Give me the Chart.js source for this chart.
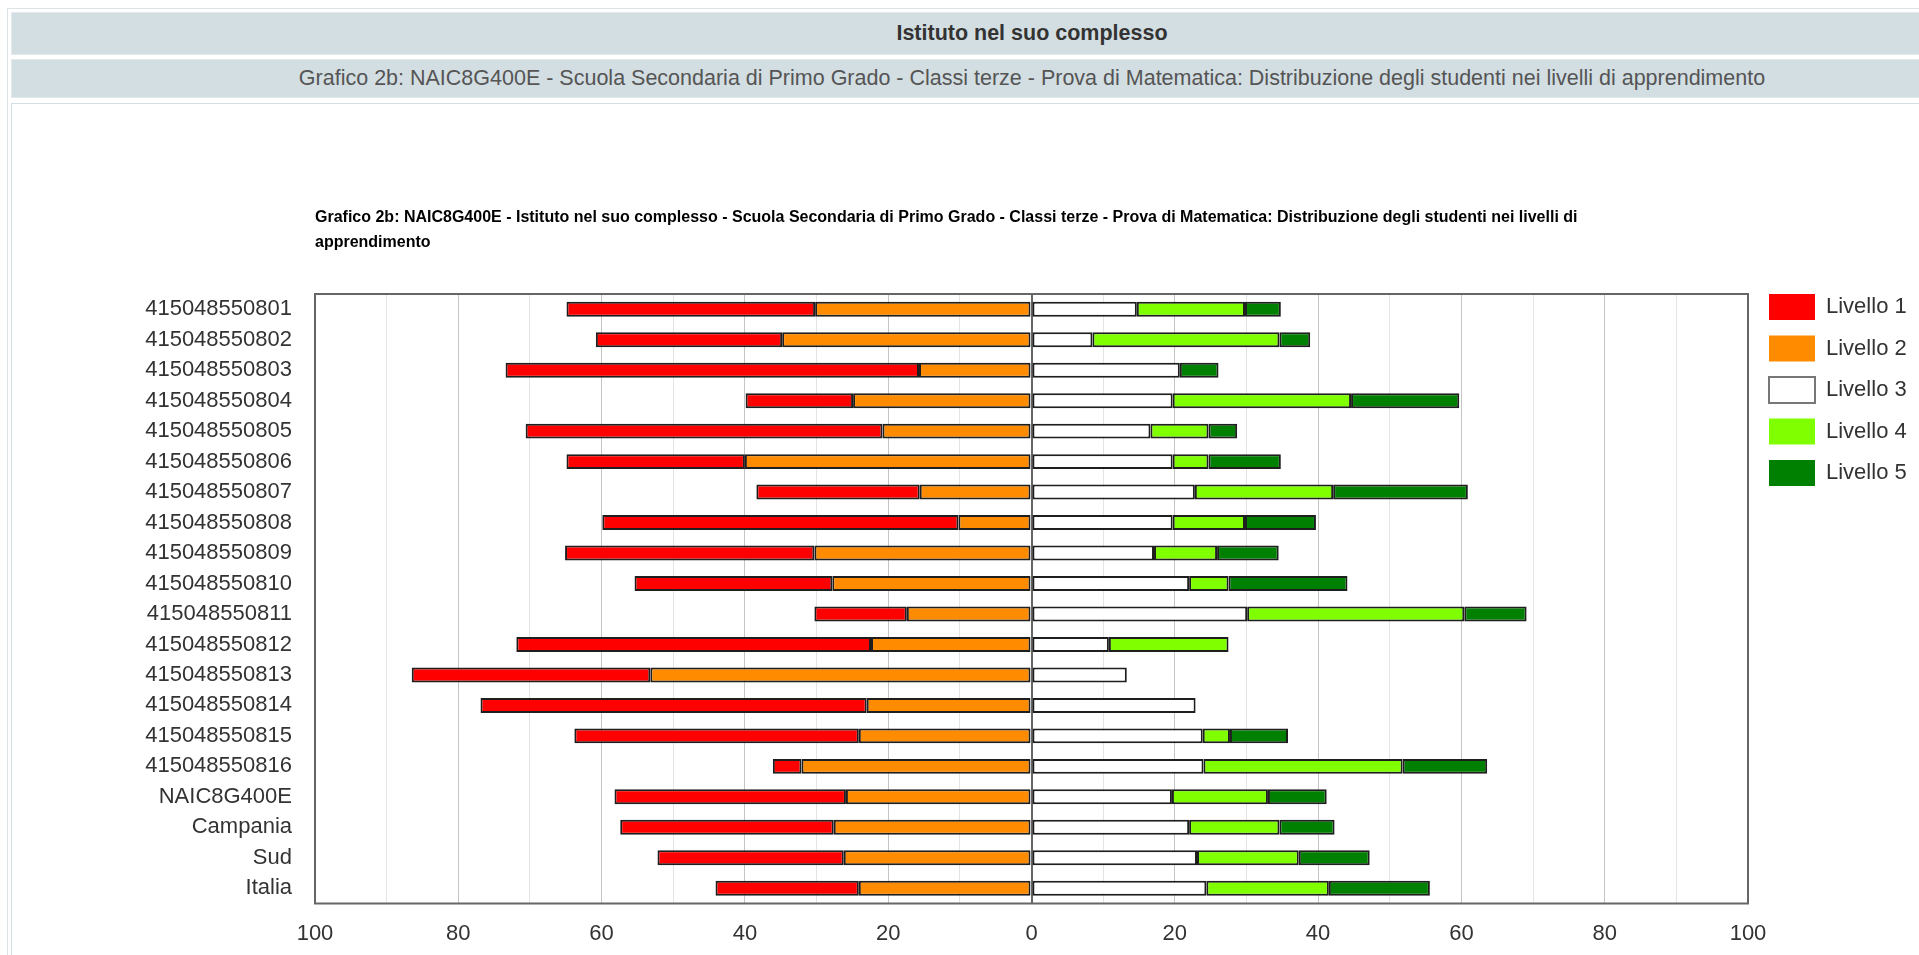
<!DOCTYPE html>
<html>
<head>
<meta charset="utf-8">
<script src="https://cdn.jsdelivr.net/npm/chart.js@4.4.0/dist/chart.umd.min.js"></script>
<style>
html,body{margin:0;padding:0;background:#fff;overflow:hidden;}
body{width:1919px;height:955px;position:relative;font-family:"Liberation Sans",Arial,sans-serif;}
#frame{position:absolute;left:7px;top:8px;width:2100px;height:1100px;border:1px solid #dce4e8;box-sizing:border-box;}
.band{position:absolute;left:11px;width:2042px;background:#d3dee2;border:1px solid #e3eaed;box-sizing:border-box;text-align:center;white-space:nowrap;}
#band1{top:12px;height:43px;line-height:41px;font-weight:bold;font-size:21.5px;color:#333;}
#band2{top:59px;height:39px;line-height:37px;font-size:21.5px;color:#555;}
#content{position:absolute;left:11px;top:103px;width:2100px;height:1000px;border:1px solid #d5dfe3;box-sizing:border-box;}
#chart{position:absolute;left:0;top:0;}
</style>
</head>
<body>
<div id="frame"></div>
<div class="band" id="band1">Istituto nel suo complesso</div>
<div class="band" id="band2">Grafico 2b: NAIC8G400E - Scuola Secondaria di Primo Grado - Classi terze - Prova di Matematica: Distribuzione degli studenti nei livelli di apprendimento</div>
<div id="content"></div>
<canvas id="chart" width="1919" height="955"></canvas>
<script>
// ---- data (percent of students per level) ----
const categories = ['415048550801','415048550802','415048550803','415048550804','415048550805','415048550806','415048550807','415048550808','415048550809','415048550810','415048550811','415048550812','415048550813','415048550814','415048550815','415048550816','NAIC8G400E','Campania','Sud','Italia'];
const livello1 = [34.7, 26.0, 57.7, 15.0, 49.8, 24.9, 22.8, 49.7, 34.8, 27.6, 12.9, 49.5, 33.3, 53.9, 39.7, 4.0, 32.3, 29.8, 26.0, 20.0];
const livello2 = [30.2, 34.8, 15.7, 24.9, 20.8, 40.0, 15.6, 10.2, 30.3, 27.8, 17.4, 22.4, 53.2, 23.0, 24.1, 32.1, 25.9, 27.6, 26.2, 24.1];
const livello3 = [14.7, 8.5, 20.7, 19.7, 16.6, 19.7, 22.8, 19.7, 17.1, 22.0, 30.1, 10.8, 13.3, 22.9, 23.9, 24.0, 19.6, 22.0, 23.1, 24.4];
const livello4 = [15.1, 26.1, 0, 24.9, 8.1, 5.0, 19.3, 10.1, 8.8, 5.5, 30.3, 16.7, 0, 0, 3.8, 27.8, 13.4, 12.6, 14.2, 17.1];
const livello5 = [5.0, 4.3, 5.4, 15.1, 4.0, 10.1, 18.8, 9.9, 8.6, 16.6, 8.7, 0, 0, 0, 8.1, 11.8, 8.2, 7.7, 9.9, 14.1];
const seriesNames = ['Livello 1','Livello 2','Livello 3','Livello 4','Livello 5'];
const xTickMin = -100, xTickMax = 100, xTickStep = 10, xLabelStep = 20;
const chartTitle = ['Grafico 2b: NAIC8G400E - Istituto nel suo complesso - Scuola Secondaria di Primo Grado - Classi terze - Prova di Matematica: Distribuzione degli studenti nei livelli di', 'apprendimento'];

// ---- styles ----
const fillColors = ['#ff0000', '#ff8c00', '#ffffff', '#80ff00', '#008000'];
const legendEdges = [null, null, '#777777', null, null];
const FONT = "'Liberation Sans', Arial, sans-serif";
Chart.defaults.font.family = FONT;

// Stack order: Livello 2 nearest zero on the negative side, then Livello 1
const stackOrder = [1, 0, 2, 3, 4];
const levelData = [livello1.map(v => -v), livello2.map(v => -v), livello3, livello4, livello5];
const datasets = stackOrder.map(i => ({
  label: seriesNames[i],
  data: levelData[i],
  backgroundColor: fillColors[i],
  levelIndex: i
}));

const plotFrame = {
  id: 'plotFrame',
  beforeDatasetsDraw(chart) {
    const {ctx, chartArea: a} = chart;
    ctx.save();
    ctx.strokeStyle = '#666';
    ctx.lineWidth = 2;
    ctx.strokeRect(a.left, a.top, a.right - a.left, a.bottom - a.top);
    ctx.restore();
  }
};
const legendNudge = {
  id: 'legendNudge',
  afterLayout(chart) {
    const lg = chart.legend, a = chart.chartArea, p = lg.options.labels.padding;
    lg.left = a.right + 21 - p;
    lg.right = chart.width;
    lg.width = lg.right - lg.left;
    lg.top = a.top - p;
  }
};

new Chart(document.getElementById('chart'), {
  type: 'bar',
  data: { labels: categories, datasets },
  options: {
    indexAxis: 'y',
    responsive: false,
    animation: false,
    devicePixelRatio: 1,
    layout: { padding: { top: 195, left: 0, right: 31, bottom: 0 } },
    datasets: {
      bar: { barPercentage: 0.49, categoryPercentage: 1, borderWidth: 2, borderColor: '#1e1e1e', borderSkipped: false }
    },
    scales: {
      x: {
        stacked: true, min: xTickMin, max: xTickMax,
        ticks: {
          stepSize: xTickStep, autoSkip: false, maxRotation: 0, padding: 17,
          color: '#333', font: { size: 22 },
          callback: v => (Math.round(v) % xLabelStep === 0 ? String(Math.abs(Math.round(v))) : '')
        },
        grid: {
          drawTicks: false,
          color: c => { const v = Math.round(c.tick.value); return v === 0 ? '#666' : (v % xLabelStep === 0 ? '#c4c4c4' : '#e4e4e4'); },
          lineWidth: c => (Math.round(c.tick.value) === 0 ? 2 : 1)
        },
        border: { display: false },
        afterFit: s => { s.height = 51.5; }
      },
      y: {
        stacked: true,
        ticks: { autoSkip: false, padding: 23, color: '#333', font: { size: 22 } },
        grid: { display: false, drawTicks: false },
        border: { display: false },
        afterFit: s => { s.width = 315; }
      }
    },
    plugins: {
      title: {
        display: true, align: 'start', fullSize: false, text: chartTitle, color: '#000',
        font: { size: 16, weight: 'bold', lineHeight: '25px' },
        padding: { top: 10.5, bottom: 38.5 }
      },
      legend: {
        position: 'right', align: 'start', maxWidth: 140,
        labels: {
          boxWidth: 46, boxHeight: 26, padding: 15.5, color: '#333', font: { size: 22 },
          sort: (a, b, data) => data.datasets[a.datasetIndex].levelIndex - data.datasets[b.datasetIndex].levelIndex,
          generateLabels(chart) {
            const items = Chart.defaults.plugins.legend.labels.generateLabels(chart);
            items.forEach(it => {
              const li = chart.data.datasets[it.datasetIndex].levelIndex;
              it.strokeStyle = legendEdges[li] || fillColors[li];
              it.lineWidth = legendEdges[li] ? 2 : 0;
            });
            return items;
          }
        }
      },
      tooltip: { enabled: false }
    }
  },
  plugins: [plotFrame, legendNudge]
});
</script>
</body>
</html>
